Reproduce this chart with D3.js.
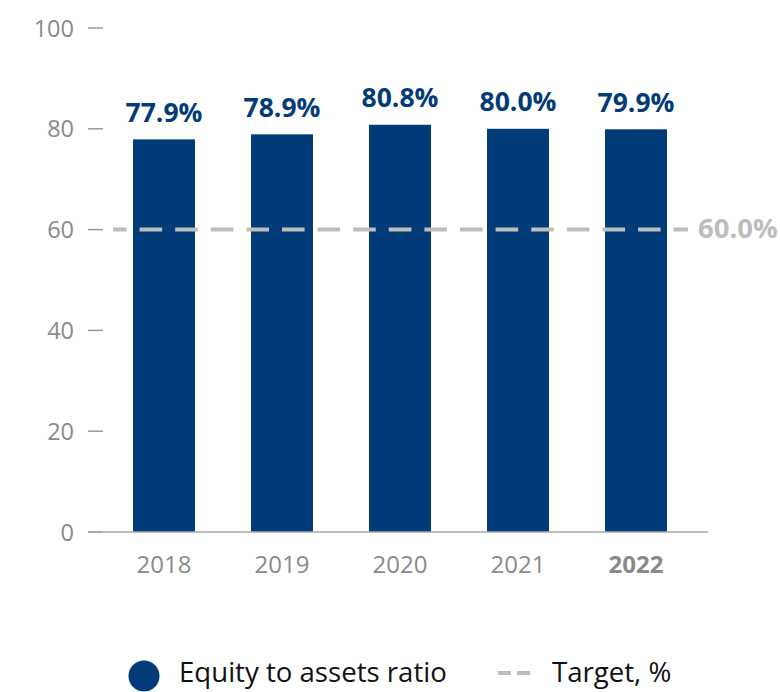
<!DOCTYPE html>
<html><head><meta charset="utf-8">
<script src="https://cdn.jsdelivr.net/npm/d3@7"></script>
<style>body{margin:0;background:#fff}svg{display:block}</style>
</head><body>
<script>
const years = ["2018","2019","2020","2021","2022"];
const ratio = [77.9, 78.9, 80.8, 80.0, 79.9];
const target = 60.0;
const yTicks = [0,20,40,60,80,100];
const legendLabels = ["Equity to assets ratio","Target, %"];

const W=780,H=692, FONT="'Open Sans', sans-serif";
const BLUE="#023c78", GRAY="#8a8a8a", DASH="#bdbdbd";
const svg=d3.select("body").append("svg").attr("width",W).attr("height",H).style("font-family",FONT);

const y=d3.scaleLinear().domain([0,100]).range([532,28]);
const x=d3.scaleBand().domain(years).range([105,695]).paddingInner(56/118).paddingOuter(28/118);

// y axis ticks
const ya=svg.append("g");
ya.selectAll("line").data(yTicks).join("line")
  .attr("x1",88).attr("x2",103).attr("y1",d=>y(d)).attr("y2",d=>y(d))
  .attr("stroke","#9a9a9a").attr("stroke-width",1.5);
ya.selectAll("text").data(yTicks).join("text")
  .attr("x",74).attr("y",d=>y(d)+8.5).attr("text-anchor","end")
  .attr("fill",GRAY).style("font-size","23.5px").text(d=>d);

// bars
svg.append("g").selectAll("rect").data(years).join("rect")
  .attr("x",d=>x(d)).attr("width",x.bandwidth())
  .attr("y",(d,i)=>y(ratio[i])).attr("height",(d,i)=>y(0)-y(ratio[i]))
  .attr("fill",BLUE);

// baseline
svg.append("line").attr("x1",88).attr("x2",708).attr("y1",y(0)).attr("y2",y(0))
  .attr("stroke","#a8a8a8").attr("stroke-width",1.5);

// bar labels
svg.append("g").selectAll("text").data(years).join("text")
  .attr("x",d=>x(d)+x.bandwidth()/2).attr("y",(d,i)=>y(ratio[i])-17.5)
  .attr("text-anchor","middle").attr("fill",BLUE).style("font-size","26.5px").style("font-weight","700")
  .text((d,i)=>ratio[i].toFixed(1)+"%");

// x labels
svg.append("g").selectAll("text").data(years).join("text")
  .attr("x",d=>x(d)+x.bandwidth()/2).attr("y",573)
  .attr("text-anchor","middle").attr("fill",GRAY).style("font-size","24px")
  .style("font-weight",(d,i)=>i===years.length-1?"700":"400").text(d=>d);

// target line
svg.append("line").attr("x1",113).attr("x2",688).attr("y1",y(target)).attr("y2",y(target))
  .attr("stroke",DASH).attr("stroke-width",4).attr("stroke-dasharray","22.6,13").attr("stroke-dashoffset",9);
svg.append("text").attr("x",698).attr("y",y(target)+8.5)
  .attr("fill",DASH).style("font-size","27.5px").style("font-weight","700")
  .text(target.toFixed(1)+"%");

// legend
const lg=svg.append("g");
lg.append("circle").attr("cx",144).attr("cy",676).attr("r",15.5).attr("fill",BLUE);
lg.append("text").attr("x",179).attr("y",682).attr("fill","#111").style("font-size","27.6px").text(legendLabels[0]);
lg.append("line").attr("x1",498).attr("x2",532).attr("y1",673).attr("y2",673)
  .attr("stroke",DASH).attr("stroke-width",4).attr("stroke-dasharray","13,6");
lg.append("text").attr("x",552).attr("y",682).attr("fill","#111").style("font-size","27.6px").text(legendLabels[1]);
</script>
</body></html>
